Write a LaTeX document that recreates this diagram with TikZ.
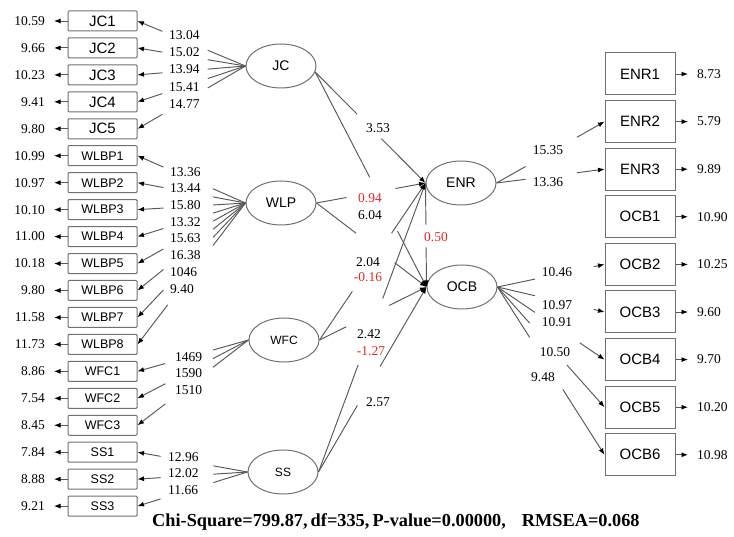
\documentclass[tikz,border=0pt]{standalone}
\usepackage{fontspec}
\setmainfont{Liberation Serif}
\setsansfont{Liberation Sans}
\usetikzlibrary{arrows.meta,calc,shapes.geometric}

\definecolor{boxgray}{HTML}{707070}
\definecolor{linegray}{HTML}{585858}
\definecolor{valred}{HTML}{E02828}

\begin{document}
\begin{tikzpicture}[x=1pt,y=-1pt]

    \tikzset{
      obs/.style={draw=boxgray, line width=1pt, rounded corners=1pt,
        minimum width=69pt, minimum height=20pt, inner sep=0pt},
      obsr/.style={draw=boxgray, line width=1pt, minimum width=70pt,
        minimum height=42pt, inner sep=0pt,
        font=\sffamily\fontsize{15}{15}\selectfont},
      lat/.style={draw=boxgray, line width=1pt, ellipse, minimum width=70pt,
        minimum height=44pt, inner sep=0pt},
      num/.style={inner sep=1pt, font=\fontsize{13.5}{13.5}\selectfont},
      numred/.style={num, text=valred},
      link/.style={draw=linegray, line width=0.95pt},
      arr/.style={link, -{Latex[black,length=6.5pt,width=5pt]}},
    }
    \useasboundingbox (0,0) rectangle (734,537);

    \foreach \lab/\e/\fs [count=\k from 0] in {JC1/10.59/15, JC2/9.66/15,
        JC3/10.23/15, JC4/9.41/15, JC5/9.80/15, WLBP1/10.99/12.5,
        WLBP2/10.97/12.5, WLBP3/10.10/12.5, WLBP4/11.00/12.5, WLBP5/10.18/12.5,
        WLBP6/9.80/12.5, WLBP7/11.58/12.5, WLBP8/11.73/12.5, WFC1/8.86/12.5,
        WFC2/7.54/12.5, WFC3/8.45/12.5, SS1/7.84/12.5, SS2/8.88/12.5,
        SS3/9.21/12.5} {
      \node[obs, font=\sffamily\fontsize{\fs}{\fs}\selectfont] (\lab) at (102.5,21+26.95*\k) {\lab};
      \node[num, anchor=east] (e\lab) at (46,21+26.95*\k) {\e};
      \draw[arr, shorten >=8pt] (\lab.west) -- (e\lab.east);
    }

    \foreach \lab/\e [count=\k from 0] in {ENR1/8.73, ENR2/5.79, ENR3/9.89,
        OCB1/10.90, OCB2/10.25, OCB3/9.60, OCB4/9.70, OCB5/10.20, OCB6/10.98} {
      \node[obsr] (\lab) at (640,74+47.6*\k) {\lab};
      \node[num, anchor=west] (e\lab) at (696,74+47.6*\k) {\e};
      \draw[arr, shorten >=8pt] (\lab.east) -- (e\lab.west);
    }

    \node[lat, font=\sffamily\fontsize{14}{14}\selectfont] (JC) at (281,66) {JC};
    \node[lat, font=\sffamily\fontsize{14}{14}\selectfont] (WLP) at (281,203) {WLP};
    \node[lat, font=\sffamily\fontsize{12}{12}\selectfont] (WFC) at (284,340) {WFC};
    \node[lat, font=\sffamily\fontsize{12}{12}\selectfont] (SS) at (283,472) {SS};
    \node[lat, font=\sffamily\fontsize{14}{14}\selectfont] (ENR) at (461,183) {ENR};
    \node[lat, font=\sffamily\fontsize{14}{14}\selectfont] (OCB) at (462,287) {OCB};

    \foreach \lat/\ind/\a/\b/\v/\vx/\vy in {JC/JC1/.35/.77/13.04/168/35,
        JC/JC2/.35/.77/15.02/168/52, JC/JC3/.35/.77/13.94/168/69,
        JC/JC4/.35/.77/15.41/168/87, JC/JC5/.35/.77/14.77/168/104,
        WLP/WLBP1/.3/.76/13.36/169/172, WLP/WLBP2/.3/.76/13.44/169/188,
        WLP/WLBP3/.3/.76/15.80/169/205, WLP/WLBP4/.3/.76/13.32/169/222,
        WLP/WLBP5/.3/.76/15.63/169/238, WLP/WLBP6/.3/.76/16.38/169/255,
        WLP/WLBP7/.3/.76/1046/169/272, WLP/WLBP8/.3/.72/9.40/169/289,
        WFC/WFC1/.32/.75/1469/174/357, WFC/WFC2/.32/.75/1590/174/373,
        WFC/WFC3/.32/.75/1510/174/390, SS/SS1/.31/.79/12.96/167/457,
        SS/SS2/.31/.79/12.02/167/473, SS/SS3/.31/.79/11.66/167/490} {
      \draw[link] (\lat.west) -- ($(\lat.west)!\a!(\ind.east)$);
      \draw[arr] ($(\lat.west)!\b!(\ind.east)$) -- (\ind.east);
      \node[num, anchor=west] (l\ind) at (\vx,\vy) {\v};
    }

    \foreach \lat/\ind/\a/\b/\v/\vx/\vy in {ENR/ENR2/.27/.745/15.35/548/150,
        ENR/ENR3/.27/.745/13.36/548/182, OCB/OCB2/.35/.9/10.46/557/272,
        OCB/OCB3/.35/.9/10.97/557/305, OCB/OCB4/.35/.77/10.91/557/322,
        OCB/OCB5/.30/.65/10.50/555/352, OCB/OCB6/.30/.61/9.48/543/377} {
      \draw[link] (\lat.east) -- ($(\lat.east)!\a!(\ind.west)$);
      \draw[arr] ($(\lat.east)!\b!(\ind.west)$) -- (\ind.west);
      \node[num] (l\ind) at (\vx,\vy) {\v};
    }

    \foreach \s/\sa/\t/\a/\b in {JC/-10/ENR/.38/.60, JC/-10/OCB/.49/.74,
        WLP/east/ENR/.275/.725, WLP/east/OCB/.36/.71, WFC/east/ENR/.31/.68,
        WFC/east/OCB/.25/.65, SS/east/ENR/.37/.60, SS/east/OCB/.36/.57,
        ENR/west/OCB/.40/.62} {
      \draw[link] (\s.\sa) -- ($(\s.\sa)!\a!(\t.west)$);
      \draw[arr] ($(\s.\sa)!\b!(\t.west)$) -- (\t.west);
    }

    \node[num] (g1) at (378,128) {3.53};
    \node[numred] (g2) at (370,198) {0.94};
    \node[num] (g3) at (370,215) {6.04};
    \node[num] (g4) at (368,262) {2.04};
    \node[numred] (g5) at (368,277) {-0.16};
    \node[numred] (b1) at (436,237) {0.50};
    \node[num] (g6) at (369,334) {2.42};
    \node[numred] (g7) at (371,351) {-1.27};
    \node[num] (g8) at (378,402) {2.57};

    \node[anchor=west, inner sep=0pt, font=\bfseries\fontsize{18.3}{18.3}\selectfont] (fitstat)
      at (152,522) {Chi-Square=799.87,\,df=335,\,P-value=0.00000,\hspace{16pt}RMSEA=0.068};

\end{tikzpicture}
\end{document}
